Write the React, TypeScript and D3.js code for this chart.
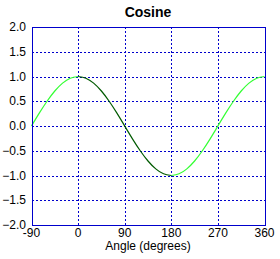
import { useEffect, useRef } from "react";
import * as d3 from "d3";

const angles = [-90, -75, -60, -45, -30, -15, 0, 15, 30, 45, 60, 75, 90, 105, 120, 135, 150, 165, 180, 195, 210, 225, 240, 255, 270, 285, 300, 315, 330, 345, 360];
const cosValues = [0, 0.259, 0.5, 0.707, 0.866, 0.966, 1, 0.966, 0.866, 0.707, 0.5, 0.259, 0, -0.259, -0.5, -0.707, -0.866, -0.966, -1, -0.966, -0.866, -0.707, -0.5, -0.259, 0, 0.259, 0.5, 0.707, 0.866, 0.966, 1];
const xTicks = [-90, 0, 90, 180, 270, 360];
const yTicks = [-2, -1.5, -1, -0.5, 0, 0.5, 1, 1.5, 2];
// angle ranges and the colour each part of the curve is drawn in
const segments = [
  { from: -90, to: 0, color: "#33ff33" },
  { from: 0, to: 180, color: "#005a00" },
  { from: 180, to: 360, color: "#33ff33" },
];

export default function App() {
  const svgRef = useRef<SVGSVGElement | null>(null);

  useEffect(() => {
    const W = 280, H = 259;
    const margin = { top: 27, right: 15.5, bottom: 34, left: 31.5 };
    const svg = d3.select(svgRef.current);
    svg.selectAll("*").remove();
    svg.attr("width", W).attr("height", H);

    svg.append("rect").attr("width", W).attr("height", H).attr("fill", "#ffffff");

    const x = d3.scaleLinear().domain([-90, 360]).range([margin.left, W - margin.right]);
    const y = d3.scaleLinear().domain([-2, 2]).range([H - margin.bottom, margin.top]);
    const blue = "#0000cc";
    const font = "'Liberation Sans', Arial, sans-serif";

    const g = svg.append("g");

    // grid
    g.selectAll("line.vg")
      .data(xTicks.slice(1, -1))
      .join("line")
      .attr("class", "vg")
      .attr("x1", d => Math.round(x(d)) + 0.5).attr("x2", d => Math.round(x(d)) + 0.5)
      .attr("y1", y(2)).attr("y2", y(-2))
      .attr("stroke", blue).attr("stroke-width", 1).attr("stroke-dasharray", "2,2")
      .attr("shape-rendering", "crispEdges");
    g.selectAll("line.hg")
      .data(yTicks.slice(1, -1))
      .join("line")
      .attr("class", "hg")
      .attr("y1", d => Math.round(y(d)) + 0.5).attr("y2", d => Math.round(y(d)) + 0.5)
      .attr("x1", x(-90)).attr("x2", x(360))
      .attr("stroke", blue).attr("stroke-width", 1).attr("stroke-dasharray", "2,2")
      .attr("shape-rendering", "crispEdges");

    // curve
    const pts = angles.map((a, i) => ({ a, v: cosValues[i] }));
    const line = d3.line<{ a: number; v: number }>()
      .x(d => x(d.a)).y(d => y(d.v))
      .curve(d3.curveNatural);
    segments.forEach(s => {
      g.append("path")
        .datum(pts.filter(p => p.a >= s.from && p.a <= s.to))
        .attr("fill", "none").attr("stroke", s.color).attr("stroke-width", 1.2)
        .attr("d", line);
    });

    // frame
    g.append("rect")
      .attr("x", Math.round(x(-90)) + 0.5).attr("y", Math.round(y(2)) + 0.5)
      .attr("width", Math.round(x(360)) - Math.round(x(-90)))
      .attr("height", Math.round(y(-2)) - Math.round(y(2)))
      .attr("fill", "none").attr("stroke", blue).attr("stroke-width", 1)
      .attr("shape-rendering", "crispEdges");

    // tick labels
    g.selectAll("text.yl")
      .data(yTicks)
      .join("text")
      .attr("class", "yl")
      .attr("x", 26).attr("y", d => y(d) + 4)
      .attr("text-anchor", "end")
      .attr("font-family", font).attr("font-size", 12).attr("fill", "#000")
      .text(d => d3.format(".1f")(d));
    g.selectAll("text.xl")
      .data(xTicks)
      .join("text")
      .attr("class", "xl")
      .attr("x", d => x(d)).attr("y", 237)
      .attr("text-anchor", "middle")
      .attr("font-family", font).attr("font-size", 12).attr("fill", "#000")
      .text(d => String(d));

    g.append("text")
      .attr("x", (x(-90) + x(360)) / 2).attr("y", 250)
      .attr("text-anchor", "middle")
      .attr("font-family", font).attr("font-size", 12).attr("fill", "#000")
      .text("Angle (degrees)");

    g.append("text")
      .attr("x", (x(-90) + x(360)) / 2).attr("y", 17)
      .attr("text-anchor", "middle")
      .attr("font-family", font).attr("font-size", 14).attr("font-weight", "bold").attr("fill", "#000")
      .text("Cosine");
  }, []);

  return <svg ref={svgRef} style={{ position: "absolute", left: 0, top: 0 }}></svg>;
}
